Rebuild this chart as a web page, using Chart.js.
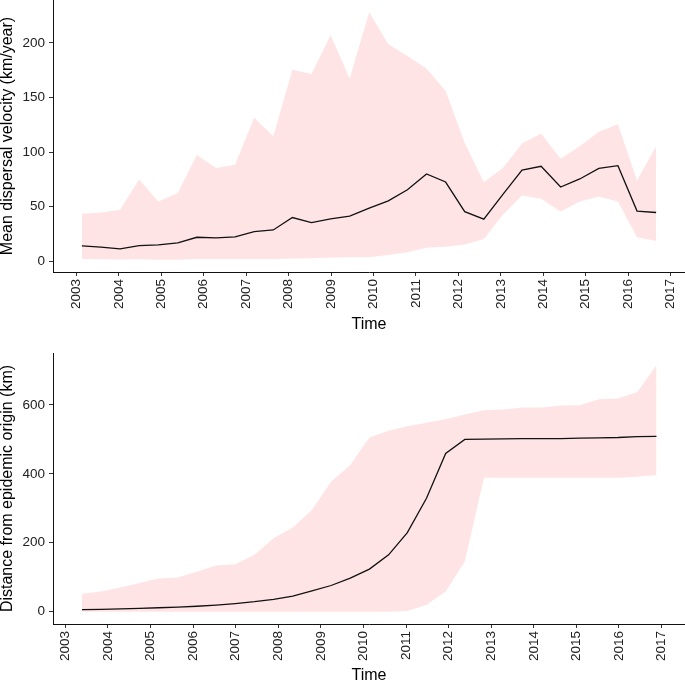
<!DOCTYPE html>
<html>
<head>
<meta charset="utf-8">
<script src="https://cdn.jsdelivr.net/npm/chart.js@4/dist/chart.umd.min.js"></script>
<style>
html, body { margin: 0; padding: 0; background: #fff; }
.panel { position: absolute; left: 0; width: 685px; height: 342px; }
#top { top: 0; }
#bottom { top: 342px; }
</style>
</head>
<body>
<div class="panel" id="top"><canvas id="velocity"></canvas></div>
<div class="panel" id="bottom"><canvas id="distance"></canvas></div>
<script>
// time points (decimal years)
var yearsTop = [2003.13, 2003.58, 2004.03, 2004.48, 2004.93, 2005.39, 2005.84, 2006.29, 2006.74, 2007.19,
    2007.64, 2008.09, 2008.54, 2008.99, 2009.44, 2009.90, 2010.35, 2010.80, 2011.25, 2011.70,
    2012.15, 2012.60, 2013.05, 2013.50, 2013.95, 2014.41, 2014.86, 2015.31, 2015.76, 2016.21, 2016.66]
var yearsBottom = [2003.39, 2003.84, 2004.29, 2004.74, 2005.19, 2005.64, 2006.09, 2006.54, 2006.99, 2007.44,
    2007.89, 2008.34, 2008.79, 2009.24, 2009.69, 2010.14, 2010.59, 2011.03, 2011.48, 2011.93,
    2012.38, 2012.83, 2013.28, 2013.73, 2014.18, 2014.63, 2015.08, 2015.53, 2015.98, 2016.43, 2016.88]

// mean dispersal velocity (km/year) with interval
var velocityMean = [14.1, 12.9, 11.3, 14.3, 15.0, 16.8, 22.0, 21.4, 22.3, 27.2, 28.7, 40.1, 35.5, 38.9, 41.4,
    48.7, 55.4, 65.5, 80.0, 72.6, 45.5, 38.6, 61.2, 83.6, 87.0, 68.0, 75.4, 85.1, 87.6, 46.0, 44.7]
var velocityUpper = [43.5, 44.7, 47.2, 75.0, 54.8, 62.5, 97.4, 85.5, 88.5, 131.4, 114.5, 175.5, 171.5, 207.0, 167.3,
    228.0, 198.8, 188.0, 176.5, 155.9, 108.5, 72.3, 85.5, 107.8, 117.0, 94.0, 105.3, 118.6, 125.6, 74.1, 105.3]
var velocityLower = [2.0, 1.8, 1.6, 1.8, 1.5, 1.5, 2.2, 2.2, 2.0, 2.0, 2.2, 2.5, 2.7, 3.5, 3.7,
    3.7, 5.8, 8.3, 12.5, 13.4, 15.3, 20.5, 42.6, 60.3, 57.3, 45.6, 54.8, 59.4, 54.8, 22.0, 18.7]

// distance from epidemic origin (km) with interval
var distanceMean = [5.8, 7.0, 8.3, 9.8, 11.4, 13.3, 15.8, 19.2, 23.5, 29.0, 36.0, 45.5, 60.5, 76.0, 97.5,
    123.5, 165.0, 229.5, 329.0, 459.0, 500.0, 501.0, 501.5, 502.0, 502.0, 502.5, 503.5, 504.5, 505.5, 508.0, 508.5]
var distanceUpper = [52.0, 58.8, 70.4, 83.0, 96.4, 99.4, 115.8, 134.0, 138.0, 165.0, 213.0, 244.0, 295.0, 377.0, 425.5,
    505.6, 525.0, 538.0, 548.0, 558.6, 572.0, 584.7, 586.6, 592.4, 592.4, 598.0, 599.0, 616.5, 618.5, 637.6, 715.0]
var distanceLower = [0, 0, 0, 0, 0, 0, 0, 0, 0, 0, 0, 0, 0, 0, 0,
    0, 0, 2, 20, 58.8, 145.6, 389, 389, 389, 389, 389, 389, 389, 389, 391.6, 396.5]

var yearTicks = [2003, 2004, 2005, 2006, 2007, 2008, 2009, 2010, 2011, 2012, 2013, 2014, 2015, 2016, 2017]
var velocityTicks = [0, 50, 100, 150, 200]
var distanceTicks = [0, 200, 400, 600]

var FONT = 'Liberation Sans, Arial, Helvetica, sans-serif'
var BAND = 'rgb(255, 228, 230)'

function points(xs, ys) {
    return xs.map(function (x, i) { return { x: x, y: ys[i] } })
}

function makeChart(id, cfg) {
    var ctx = document.getElementById(id).getContext('2d')
    return new Chart(ctx, {
        type: 'line',
        data: {
            datasets: [{
                data: points(cfg.xs, cfg.mean),
                borderColor: '#111',
                borderWidth: 1.3,
                pointRadius: 0,
                tension: 0,
                fill: false
            }, {
                data: points(cfg.xs, cfg.lower),
                borderWidth: 0,
                borderColor: 'rgba(0,0,0,0)',
                pointRadius: 0,
                tension: 0,
                fill: false
            }, {
                data: points(cfg.xs, cfg.upper),
                borderWidth: 0,
                borderColor: 'rgba(0,0,0,0)',
                backgroundColor: BAND,
                pointRadius: 0,
                tension: 0,
                fill: '-1'
            }]
        },
        options: {
            responsive: true,
            maintainAspectRatio: false,
            animation: false,
            layout: { padding: { top: cfg.padTop, left: 0, right: 0, bottom: 0 } },
            plugins: { legend: { display: false }, tooltip: { enabled: false } },
            scales: {
                x: {
                    type: 'linear',
                    min: cfg.xMin,
                    max: cfg.xMax,
                    afterBuildTicks: function (s) { s.ticks = yearTicks.map(function (v) { return { value: v } }) },
                    afterFit: function (s) { s.height = cfg.xHeight; s.paddingLeft = 0; s.paddingRight = 0 },
                    ticks: {
                        autoSkip: false,
                        minRotation: 90,
                        maxRotation: 90,
                        padding: 3,
                        color: '#222',
                        font: { family: FONT, size: 13.5 },
                        callback: function (v) { return String(v) }
                    },
                    grid: { drawOnChartArea: false, drawTicks: true, tickLength: 4, color: '#333', lineWidth: 1 },
                    border: { display: true, color: '#111', width: 1 },
                    title: {
                        display: true,
                        text: 'Time',
                        color: '#000',
                        font: { family: FONT, size: 16, lineHeight: 1 },
                        padding: { top: 0, bottom: cfg.xTitlePad }
                    }
                },
                y: {
                    type: 'linear',
                    min: cfg.yMin,
                    max: cfg.yMax,
                    afterBuildTicks: function (s) { s.ticks = cfg.yTicks.map(function (v) { return { value: v } }) },
                    afterFit: function (s) { s.width = 53; s.paddingTop = 0; s.paddingBottom = 0 },
                    ticks: {
                        padding: 4,
                        color: '#222',
                        font: { family: FONT, size: 13.5 },
                        callback: function (v) { return String(v) }
                    },
                    grid: { drawOnChartArea: false, drawTicks: true, tickLength: 4, color: '#333', lineWidth: 1 },
                    border: { display: true, color: '#111', width: 1 },
                    title: {
                        display: true,
                        text: cfg.yTitle,
                        color: '#000',
                        font: { family: FONT, size: 16, lineHeight: 1 },
                        padding: { top: 0, bottom: 0 }
                    }
                }
            }
        }
    })
}

makeChart('velocity', {
    xs: yearsTop, mean: velocityMean, lower: velocityLower, upper: velocityUpper,
    xMin: 2002.45, xMax: 2017.34, yMin: -9.8, yMax: 239.3, yTicks: velocityTicks,
    yTitle: 'Mean dispersal velocity (km/year)',
    padTop: 0, xHeight: 70, xTitlePad: 9
})

makeChart('distance', {
    xs: yearsBottom, mean: distanceMean, lower: distanceLower, upper: distanceUpper,
    xMin: 2002.71, xMax: 2017.55, yMin: -35.7, yMax: 750.7, yTicks: distanceTicks,
    yTitle: 'Distance from epidemic origin (km)',
    padTop: 11, xHeight: 60, xTitlePad: 0
})
</script>
</body>
</html>
